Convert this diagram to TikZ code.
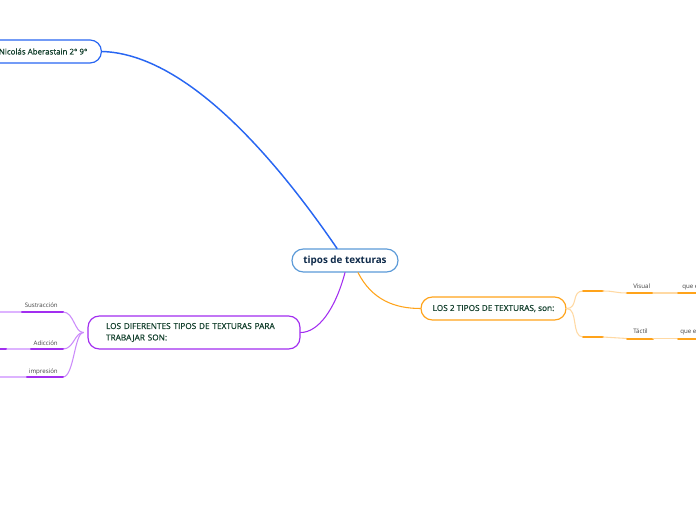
\documentclass[tikz,border=0pt]{standalone}
\usepackage{fontspec}
\setmainfont{Open Sans}
\newfontfamily\topicfont{Open Sans}[FakeBold=0.6]
\usetikzlibrary{calc,positioning}

\definecolor{rootblue}{HTML}{5B9AD8}
\definecolor{linkblue}{HTML}{2866F2}
\definecolor{branchorange}{HTML}{FFA31A}
\definecolor{paleorange}{HTML}{FFD9A3}
\definecolor{branchpurple}{HTML}{A22EF0}
\definecolor{palepurple}{HTML}{DDB3FF}
\definecolor{topictext}{HTML}{123F2C}
\definecolor{roottext}{HTML}{0E2A4A}

\begin{document}
\begin{tikzpicture}[
  x=0.75pt, y=-0.75pt,
  line cap=round,
  line join=round,
  topic/.style={draw, fill=white, line width=0.9pt, rounded corners=8.5pt, text=topictext,
    minimum height=17.25pt, inner ysep=2pt, font=\fontsize{6.2}{8.6}\selectfont\topicfont},
  rootbox/.style={topic, draw=rootblue, text=roottext, minimum width=79.5pt,
    font=\fontsize{7.4}{9}\selectfont\bfseries},
  link/.style={line width=0.8pt},
  bar/.style={line width=1.5pt},
  thin/.style={line width=0.8pt},
  sublabel/.style={inner sep=0pt, text=black!75, font=\fontsize{4.6}{5.5}\selectfont}
]

\useasboundingbox (0,0) rectangle (696,520);

% Central topic.
\node[rootbox] (root) at (345,260.5) {tipos de texturas};

% Main topics.
\node[topic, draw=linkblue, anchor=east, inner xsep=10.5pt,
  font=\fontsize{5.95}{8}\selectfont\topicfont] (author) at (102,51.5)
  {Nicolás Aberastain 2° 9°};
\node[topic, draw=branchorange, minimum width=108.75pt] (kinds) at (493.5,308.5)
  {LOS 2 TIPOS DE TEXTURAS, son:};
\node[topic, draw=branchpurple, text width=132pt, inner xsep=13.5pt, minimum height=24.75pt,
  align=left] (ways) at (194,332.5)
  {LOS DIFERENTES TIPOS DE TEXTURAS PARA\\TRABAJAR SON:};

% Links from the central topic.
\draw[link, draw=linkblue, line width=1.1pt]
  (root.north) ++(-8,0) .. controls (282,168) and (190,54) .. (author.east);
\draw[link, draw=branchorange]
  (root.south) ++(13,0) .. controls (372,300) and (395,308.5) .. (kinds.west);
\draw[link, draw=branchpurple]
  (root.south) .. controls (335,310) and (318,332.5) .. (ways.east);

% Orange subtopics.
\foreach \nm/\ya/\yb/\txt/\xq in {vis/291/293/Visual/682, tac/337/338.5/Táctil/680}{
  \coordinate (\nm0) at (583,\ya);
  \coordinate (\nm1) at (603,\ya);
  \coordinate (\nm2) at (627,\yb);
  \coordinate (\nm3) at (653,\yb);
  \coordinate (\nm4) at (678,\yb);
  \coordinate (\nm5) at (700,\yb);
  \draw[thin, draw=paleorange] (kinds.east) .. controls +(12,0) and +(-12,0) .. (\nm0);
  \draw[bar, draw=branchorange] (\nm0) -- (\nm1);
  \draw[thin, draw=paleorange] (\nm1) .. controls +(12,0) and +(-12,0) .. (\nm2);
  \draw[bar, draw=branchorange] (\nm2) -- (\nm3);
  \draw[thin, draw=paleorange] (\nm3) -- (\nm4);
  \draw[bar, draw=branchorange] (\nm4) -- (\nm5);
  \node[sublabel, anchor=base west] (\nm lbl) at ($(\nm2)+(6,-4.5)$) {\txt};
  \node[sublabel, anchor=base west] (\nm more) at (\xq,\yb-4.5) {que e};
}

% Purple subtopics.
\foreach \nm/\yy/\xa/\txt in {sus/312/21/Sustracción, adi/349/30/Adicción, imp/377/26/impresión}{
  \coordinate (\nm0) at (63,\yy);
  \coordinate (\nm1) at (\xa,\yy);
  \coordinate (\nm2) at (-2,\yy);
  \draw[thin, draw=palepurple!70!branchpurple] (ways.west) ++(-4,0)
    .. controls +(-9,0) and +(11,0) .. (\nm0);
  \draw[bar, draw=branchpurple] (\nm0) -- (\nm1);
  \draw[thin, draw=palepurple] (\nm1) -- (\nm2);
  \node[sublabel, anchor=base east] (\nm lbl) at (58,\yy-4) {\txt};
}
\draw[bar, draw=branchpurple] (adi2) -- (6,349);

\end{tikzpicture}
\end{document}
